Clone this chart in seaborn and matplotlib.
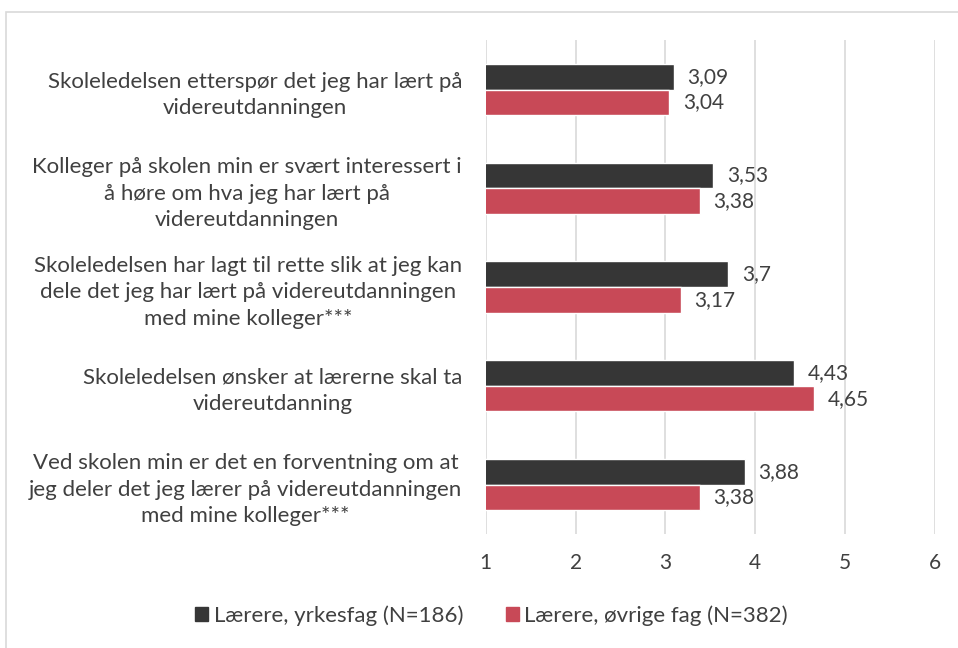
import numpy as np
import pandas as pd
import matplotlib
matplotlib.use("Agg")
import matplotlib.pyplot as plt
import matplotlib.patches as mpatches
import seaborn as sns

# ---------------------------------------------------------------------------
# Data
# ---------------------------------------------------------------------------

statements = [
    "Skoleledelsen etterspør det jeg har lært på\nvidereutdanningen",
    "Kolleger på skolen min er svært interessert i\nå høre om hva jeg har lært på\nvidereutdanningen",
    "Skoleledelsen har lagt til rette slik at jeg kan\ndele det jeg har lært på videreutdanningen\nmed mine kolleger***",
    "Skoleledelsen ønsker at lærerne skal ta\nvidereutdanning",
    "Ved skolen min er det en forventning om at\njeg deler det jeg lærer på videreutdanningen\nmed mine kolleger***",
]
groups = ["Lærere, yrkesfag (N=186)", "Lærere, øvrige fag (N=382)"]
yrkesfag = [3.09, 3.53, 3.70, 4.43, 3.88]
ovrige = [3.04, 3.38, 3.17, 4.65, 3.38]
x_ticks = [1, 2, 3, 4, 5, 6]

colors = ["#363636", "#C84957"]
text_color = "#404040"

df = pd.DataFrame({
    "statement": statements * 2,
    "group": [groups[0]] * len(statements) + [groups[1]] * len(statements),
    "value": yrkesfag + ovrige,
})

# ---------------------------------------------------------------------------
# Plot
# ---------------------------------------------------------------------------

sns.set_style("white")
plt.rcParams["font.family"] = ["Lato", "DejaVu Sans"]

fig = plt.figure(figsize=(9.58, 6.48), dpi=100)
ax = fig.add_axes([0.507, 0.176, 0.469, 0.762])

sns.barplot(data=df, x="value", y="statement", hue="group", orient="h",
            palette=colors, width=0.52, order=statements, hue_order=groups,
            legend=False, ax=ax, saturation=1)

for container, vals in zip(ax.containers, [yrkesfag, ovrige]):
    labels = [f"{v:g}".replace(".", ",") for v in vals]
    ax.bar_label(container, labels=labels, padding=10, fontsize=15, color=text_color)

ax.set_xlim(1, 6)
ax.set_xticks(x_ticks)
ax.set_xlabel("")
ax.set_ylabel("")
ax.grid(axis="x", color="#d9d9d9", linewidth=1.2)
ax.set_axisbelow(True)
for s in ax.spines.values():
    s.set_visible(False)
ax.tick_params(axis="x", length=0, pad=14, labelsize=15, labelcolor=text_color)
ax.tick_params(axis="y", length=0, pad=17, labelsize=16, labelcolor=text_color)
for lbl in ax.get_yticklabels():
    lbl.set_multialignment("center")
    lbl.set_linespacing(1.4)

handles = [mpatches.Patch(color=c, label=g) for c, g in zip(colors, groups)]
leg = fig.legend(handles=handles, loc="center", bbox_to_anchor=(0.513, 0.05), ncol=2,
                 frameon=False, fontsize=16, handlelength=0.6, handleheight=0.6,
                 handletextpad=0.25, columnspacing=1.9)
for t in leg.get_texts():
    t.set_color(text_color)

fig.patches.append(mpatches.Rectangle((0.006, -0.01), 1.0, 0.992, transform=fig.transFigure,
                                      fill=False, edgecolor="#d9d9d9", linewidth=1.2))

fig.savefig("out.png", dpi=100)
